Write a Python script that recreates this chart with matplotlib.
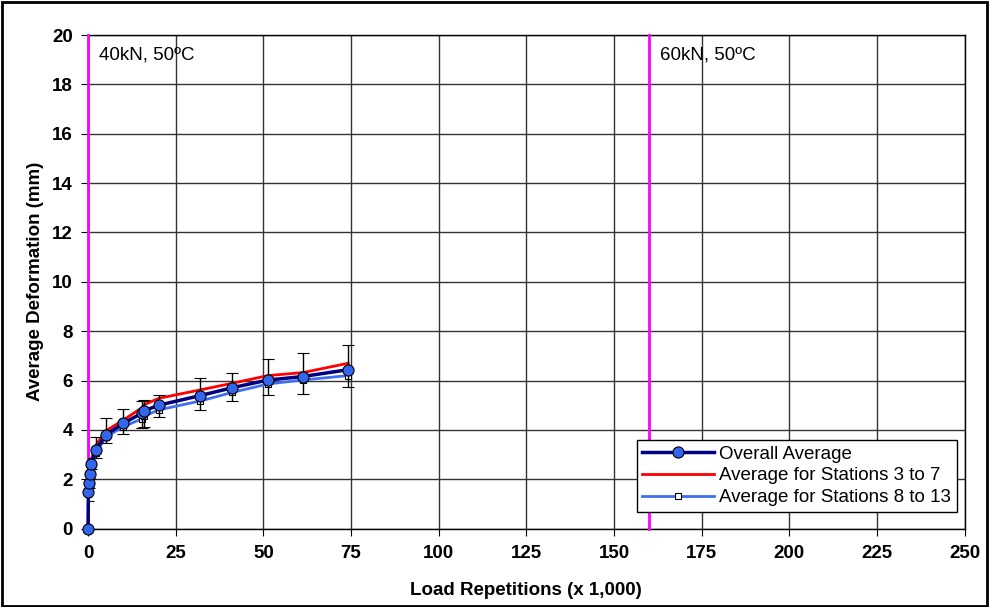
import matplotlib.pyplot as plt
from matplotlib.lines import Line2D
from matplotlib.patches import Rectangle

# load repetitions (x 1,000)
reps = [0, 0.1, 0.25, 0.5, 0.8, 2.3, 5.1, 10.1, 15.4, 15.9, 20.2, 32.0, 41.2, 51.3, 61.2, 74.2]
overall = [0, 1.5, 1.85, 2.2, 2.6, 3.2, 3.8, 4.27, 4.68, 4.77, 5.0, 5.39, 5.71, 6.02, 6.16, 6.44]
stations_3_7 = [0, 1.6, 1.95, 2.3, 2.75, 3.39, 3.96, 4.40, 4.9, 5.01, 5.28, 5.62, 5.89, 6.2, 6.32, 6.70]
stations_8_13 = [0, 1.4, 1.75, 2.1, 2.45, 3.08, 3.72, 4.13, 4.45, 4.55, 4.81, 5.17, 5.52, 5.86, 6.02, 6.2]
err_low = [0, 0.4, 0.2, 0.2, 0.2, 0.32, 0.34, 0.42, 0.6, 0.67, 0.48, 0.59, 0.53, 0.6, 0.69, 0.69]
err_high = [0, 0.2, 0.2, 0.2, 0.25, 0.5, 0.68, 0.59, 0.5, 0.45, 0.43, 0.7, 0.61, 0.87, 0.97, 1.0]

load_changes = [0, 160]
load_labels = ['40kN, 50\u00baC', '60kN, 50\u00baC']

plt.rcParams['font.family'] = ['Liberation Sans', 'DejaVu Sans']

navy = '#000080'
light_blue = '#3F6FF0'
dot_blue = '#3366EE'

fig = plt.figure(figsize=(9.89, 6.07), dpi=100)
ax = fig.add_axes([0.089, 0.1292, 0.8864, 0.8131])

ax.plot(reps, stations_8_13, color=light_blue, lw=2, marker='s', markersize=5,
        markerfacecolor='white', markeredgecolor='black', markeredgewidth=0.8, zorder=4)
ax.plot(reps, stations_3_7, color='red', lw=2, zorder=4)
eb = ax.errorbar(reps, overall, yerr=[err_low, err_high], color=navy, lw=2.5,
                 marker='o', markersize=8, markerfacecolor=dot_blue, markeredgecolor='black',
                 markeredgewidth=0.8, ecolor='black', elinewidth=1, capsize=4, zorder=5)
eb.lines[0].set_clip_on(False)

for xc, lab in zip(load_changes, load_labels):
    ax.axvline(xc, color='#FF00FF', lw=2, zorder=3, clip_on=False)
    ax.text(xc + 3.1, 19.2, lab, fontsize=13.5, va='center', ha='left')

ax.set_xlim(0, 250)
ax.set_ylim(0, 20)
ax.set_xticks(range(0, 251, 25))
ax.set_yticks(range(0, 21, 2))
ax.grid(True, color='#333333', lw=1)
ax.set_axisbelow(True)
ax.tick_params(direction='out', length=5, labelsize=13.5)
ax.tick_params(axis='x', pad=7)
ax.tick_params(axis='y', pad=6)
for lbl in ax.get_xticklabels() + ax.get_yticklabels():
    lbl.set_fontweight('bold')
for s in ax.spines.values():
    s.set_linewidth(1)

ax.set_xlabel('Load Repetitions (x 1,000)', fontsize=13.5, fontweight='bold', labelpad=14)
ax.set_ylabel('Average Deformation (mm)', fontsize=13.5, fontweight='bold', labelpad=6)

handles = [
    Line2D([], [], color=navy, lw=2.5, marker='o', markersize=8,
           markerfacecolor=dot_blue, markeredgecolor='black', markeredgewidth=0.8),
    Line2D([], [], color='red', lw=2),
    Line2D([], [], color=light_blue, lw=2, marker='s', markersize=5,
           markerfacecolor='white', markeredgecolor='black', markeredgewidth=0.8),
]
labels = ['Overall Average', 'Average for Stations 3 to 7', 'Average for Stations 8 to 13']
leg = ax.legend(handles, labels, loc='lower right', bbox_to_anchor=(0.991, 0.034),
                fontsize=13.5, fancybox=False, edgecolor='black', framealpha=1,
                handlelength=3.8, borderpad=0.3, labelspacing=0.25, handletextpad=0.3,
                borderaxespad=0)
leg.get_frame().set_linewidth(1)

fig.patches.append(Rectangle((0.002, 0.002), 0.996, 0.994, transform=fig.transFigure,
                             fill=False, edgecolor='black', lw=2))

fig.savefig('out.png', dpi=100)
